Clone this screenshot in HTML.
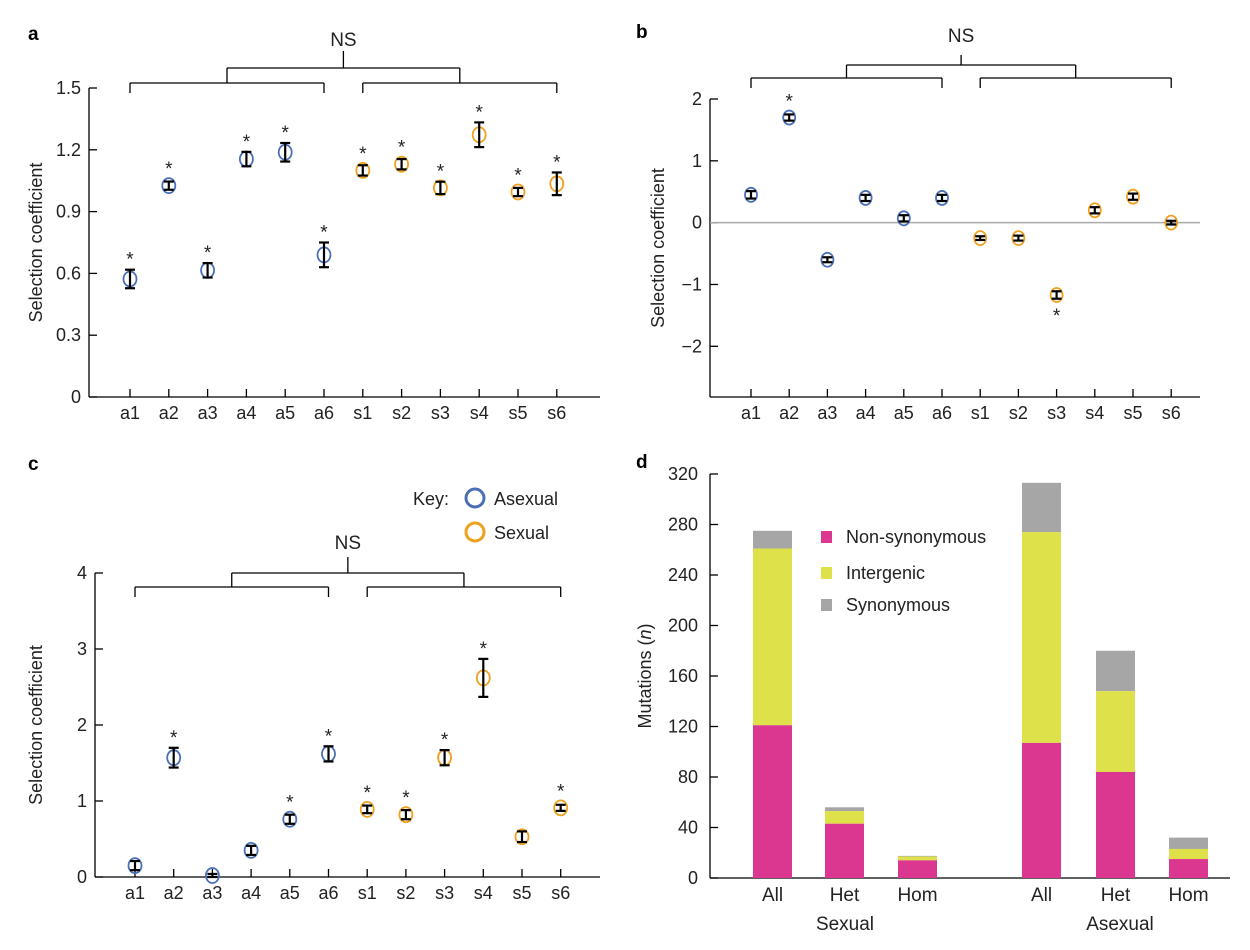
<!DOCTYPE html>
<html><head><meta charset="utf-8"><style>
html,body{margin:0;padding:0;background:#fff;}
svg{display:block;font-family:"Liberation Sans",sans-serif;}
</style></head><body>
<svg id="s" width="1250" height="950" viewBox="0 0 1250 950" xmlns="http://www.w3.org/2000/svg">
<g font-weight="bold" font-size="19">
<text x="28" y="40">a</text><text x="636" y="38">b</text><text x="28" y="470">c</text><text x="636" y="468">d</text>
</g>
</svg>
<script>
const S=document.getElementById('s');let h='';
const BL='#4a6fb5',OR='#f0a01e';
function L(x1,y1,x2,y2,c,w){h+=`<line x1="${x1}" y1="${y1}" x2="${x2}" y2="${y2}" stroke="${c||'#000'}" stroke-width="${w||1.3}"/>`;}
function T(x,y,t,o){o=o||{};h+=`<text x="${x}" y="${y}" font-size="${o.fs||18}" text-anchor="${o.a||'middle'}" fill="#222" ${o.tr?`transform="${o.tr}"`:''}>${t}</text>`;}
const labs=['a1','a2','a3','a4','a5','a6','s1','s2','s3','s4','s5','s6'];
function bracket(x0,dx,yl,yu,ytop,nsY){
  const xs=i=>x0+i*dx;
  L(xs(0),yl,xs(5),yl);L(xs(0),yl,xs(0),yl+10);L(xs(5),yl,xs(5),yl+10);
  L(xs(6),yl,xs(11),yl);L(xs(6),yl,xs(6),yl+10);L(xs(11),yl,xs(11),yl+10);
  const m1=(xs(0)+xs(5))/2,m2=(xs(6)+xs(11))/2;
  L(m1,yu,m2,yu);L(m1,yu,m1,yl);L(m2,yu,m2,yl);
  const c=(xs(5)+xs(6))/2;L(c,yu,c,ytop);T(c,nsY,'NS',{fs:19});
}
function panel(o){
  const {ax,y0,y1,vmin,vmax,ticks,x0,dx,data,r}=o;
  const Y=v=>y1+(vmax-v)/(vmax-vmin)*(y0-y1);
  L(ax,y0,ax,Y(ticks[ticks.length-1]));L(ax,y0,o.xend,y0);
  ticks.forEach(t=>{L(ax,Y(t),ax+8,Y(t));T(ax-8,Y(t)+6,String(t).replace('-','−'),{a:'end'});});
  if(o.zero)L(ax,Y(0),o.xend,Y(0),'#aaa',1.5);
  labs.forEach((l,i)=>{const x=x0+i*dx;L(x,y0,x,y0-8);T(x,y0+22,l);});
  data.forEach((d,i)=>{const x=x0+i*dx,[v,e,st]=d,c=i<6?BL:OR;
    h+=`<ellipse cx="${x}" cy="${Y(v)}" rx="${r}" ry="${r+1}" fill="none" stroke="${c}" stroke-width="1.8"/>`;
    if(e>0){L(x,Y(v-e),x,Y(v+e),'#000',2.2);L(x-5,Y(v+e),x+5,Y(v+e),'#000',2.2);L(x-5,Y(v-e),x+5,Y(v-e),'#000',2.2);}
    if(st===1)T(x,Math.min(Y(v+e),Y(v)-r)-4,'*',{fs:19});
    if(st===2)T(x,Math.max(Y(v-e),Y(v)+r)+21,'*',{fs:19});
  });
  T(0,0,'Selection coefficient',{tr:`translate(${o.ylx},${(y0+Y(ticks[ticks.length-1]))/2}) rotate(-90)`});
}
panel({ax:89,y0:397,y1:88,vmin:0,vmax:1.5,ticks:[0,0.3,0.6,0.9,1.2,1.5],x0:130,dx:38.8,xend:600,r:6.5,ylx:42,
data:[[0.573,0.045,1],[1.026,0.02,1],[0.615,0.035,1],[1.155,0.035,1],[1.188,0.045,1],[0.69,0.06,1],[1.10,0.025,1],[1.13,0.025,1],[1.015,0.03,1],[1.273,0.06,1],[0.995,0.02,1],[1.035,0.055,1]]});
bracket(130,38.8,83,68,51,46);
panel({ax:710,y0:397,y1:99,vmin:-2.82,vmax:2,ticks:[-2,-1,0,1,2],x0:751,dx:38.2,xend:1200,r:6,zero:true,ylx:664,
data:[[0.45,0.06,0],[1.7,0.05,1],[-0.6,0.04,0],[0.4,0.05,0],[0.07,0.05,0],[0.4,0.05,0],[-0.25,0.03,0],[-0.25,0.04,0],[-1.17,0.06,2],[0.2,0.05,0],[0.42,0.05,0],[0.0,0.03,0]]});
bracket(751,38.2,78,65,55,42);
panel({ax:95,y0:877,y1:573,vmin:0,vmax:4,ticks:[0,1,2,3,4],x0:135,dx:38.7,xend:600,r:6.5,ylx:42,
data:[[0.15,0.06,0],[1.57,0.13,1],[0.02,0.02,0],[0.35,0.06,0],[0.76,0.06,1],[1.62,0.1,1],[0.89,0.05,1],[0.82,0.06,1],[1.57,0.1,1],[2.62,0.25,1],[0.53,0.07,0],[0.91,0.04,1]]});
bracket(135,38.7,587,573,557,549);
T(413,505,'Key:',{a:'start',fs:18});
h+=`<circle cx="475" cy="498" r="9" fill="none" stroke="${BL}" stroke-width="3"/><circle cx="475" cy="532" r="9" fill="none" stroke="${OR}" stroke-width="3"/>`;
T(494,505,'Asexual',{a:'start',fs:18});T(494,539,'Sexual',{a:'start',fs:18});
(function(){const ax=710,y0=878,Y=v=>y0-v*1.2625;
L(ax,y0,ax,Y(320));L(ax,y0,1230,y0);
for(let t=0;t<=320;t+=40){L(ax,Y(t),ax+8,Y(t));T(ax-12,Y(t)+6,t,{a:'end'});}
const bars=[[753,121,261,275],[825,43,53,56],[898,14,17,17.5],[1022,107,274,313],[1096,84,148,180],[1169,15,23,32]];
const names=['All','Het','Hom','All','Het','Hom'];
bars.forEach((b,i)=>{const x=b[0],w=39;
 h+=`<rect x="${x}" y="${Y(b[3])}" width="${w}" height="${Y(b[2])-Y(b[3])}" fill="#a6a6a6"/>`;
 h+=`<rect x="${x}" y="${Y(b[2])}" width="${w}" height="${Y(b[1])-Y(b[2])}" fill="#dfe14a"/>`;
 h+=`<rect x="${x}" y="${Y(b[1])}" width="${w}" height="${Y(0)-Y(b[1])}" fill="#dc3790"/>`;
 T(x+w/2,y0+23,names[i],{fs:19});});
T(845,930,'Sexual',{fs:19});T(1120,930,'Asexual',{fs:19});
[['#dc3790','Non-synonymous',537],['#dfe14a','Intergenic',573],['#a6a6a6','Synonymous',605]].forEach(l=>{
 h+=`<rect x="821" y="${l[2]-6}" width="11" height="12" fill="${l[0]}"/>`;T(846,l[2]+6,l[1],{a:'start',fs:18});});
h+=`<text font-size="18" fill="#222" text-anchor="middle" transform="translate(651,676) rotate(-90)">Mutations (<tspan font-style="italic">n</tspan>)</text>`;
})();
S.insertAdjacentHTML('beforeend',h);
</script>
</body></html>
